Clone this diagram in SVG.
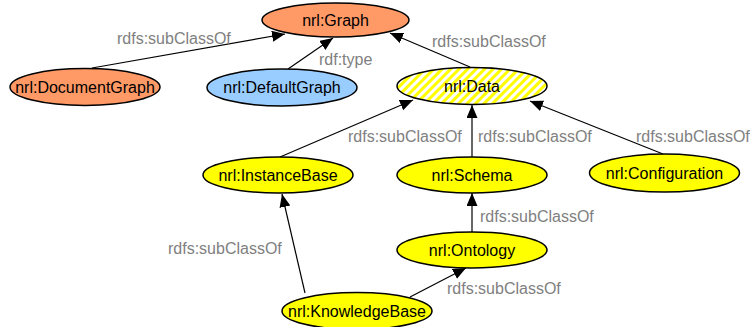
<svg xmlns="http://www.w3.org/2000/svg" width="752" height="327" viewBox="0 0 752 327">
<style>
.node ellipse{stroke:#000;stroke-width:1.5}
.orange{fill:#FF9966}
.blue{fill:#99CCFF}
.yellow{fill:#FFFF00}
.hatch{fill:url(#stripes)}
.nt{font-family:"Liberation Sans",Arial,sans-serif;font-size:16px;fill:#000;text-anchor:middle}
.el{font-family:"Liberation Sans",Arial,sans-serif;font-size:16px;fill:#808080}
#connectors line{stroke:#000;stroke-width:1.2;marker-end:url(#arrow)}
</style>
<defs>
<marker id="arrow" markerUnits="userSpaceOnUse" markerWidth="14" markerHeight="12" refX="13" refY="5.5" orient="auto">
<path d="M0,0 L13,5.5 L0,11 Z" fill="#000"/>
</marker>
<pattern id="stripes" patternUnits="userSpaceOnUse" width="6" height="6" patternTransform="rotate(45)">
<rect width="6" height="6" fill="#fff"/>
<rect width="3" height="6" fill="#FFFF00"/>
</pattern>
</defs>
<rect width="752" height="327" fill="#fff"/>
<g id="connectors">
<line x1="92" y1="68" x2="285" y2="34"/>
<line x1="288" y1="69" x2="333" y2="38"/>
<line x1="470" y1="67" x2="390" y2="33"/>
<line x1="280" y1="157" x2="413" y2="100"/>
<line x1="472" y1="157" x2="472" y2="105"/>
<line x1="663" y1="154" x2="530" y2="101"/>
<line x1="472" y1="232" x2="472" y2="193"/>
<line x1="305" y1="293" x2="282" y2="194"/>
<line x1="410" y1="297" x2="466" y2="268"/>
<text class="el" x="117" y="43.5">rdfs:subClassOf</text>
<text class="el" x="319" y="65">rdf:type</text>
<text class="el" x="432" y="47">rdfs:subClassOf</text>
<text class="el" x="348" y="141.5">rdfs:subClassOf</text>
<text class="el" x="478" y="141.5">rdfs:subClassOf</text>
<text class="el" x="636" y="141.5">rdfs:subClassOf</text>
<text class="el" x="480" y="222">rdfs:subClassOf</text>
<text class="el" x="168" y="253.5">rdfs:subClassOf</text>
<text class="el" x="447" y="293.5">rdfs:subClassOf</text>
</g>
<g id="graph" class="node"><ellipse class="orange" cx="335.5" cy="20" rx="73.5" ry="17"/><text class="nt" x="335.5" y="25.5">nrl:Graph</text></g>
<g id="documentgraph" class="node"><ellipse class="orange" cx="85" cy="87" rx="75" ry="18.5"/><text class="nt" x="85" y="92.5">nrl:DocumentGraph</text></g>
<g id="defaultgraph" class="node"><ellipse class="blue" cx="282" cy="87.5" rx="75" ry="18.5"/><text class="nt" x="282" y="93">nrl:DefaultGraph</text></g>
<g id="data" class="node"><ellipse class="hatch" cx="472" cy="86" rx="75" ry="18.5"/><text class="nt" x="472" y="91.5">nrl:Data</text></g>
<g id="instancebase" class="node"><ellipse class="yellow" cx="278" cy="175" rx="75" ry="18"/><text class="nt" x="278" y="180.5">nrl:InstanceBase</text></g>
<g id="schema" class="node"><ellipse class="yellow" cx="472" cy="175" rx="75" ry="18"/><text class="nt" x="472" y="180.5">nrl:Schema</text></g>
<g id="configuration" class="node"><ellipse class="yellow" cx="664.5" cy="173" rx="75" ry="19"/><text class="nt" x="664.5" y="178.5">nrl:Configuration</text></g>
<g id="ontology" class="node"><ellipse class="yellow" cx="472" cy="250" rx="75" ry="18"/><text class="nt" x="472" y="255.5">nrl:Ontology</text></g>
<g id="knowledgebase" class="node"><ellipse class="yellow" cx="357" cy="311" rx="75" ry="18.5"/><text class="nt" x="357" y="316.5">nrl:KnowledgeBase</text></g>
</svg>
